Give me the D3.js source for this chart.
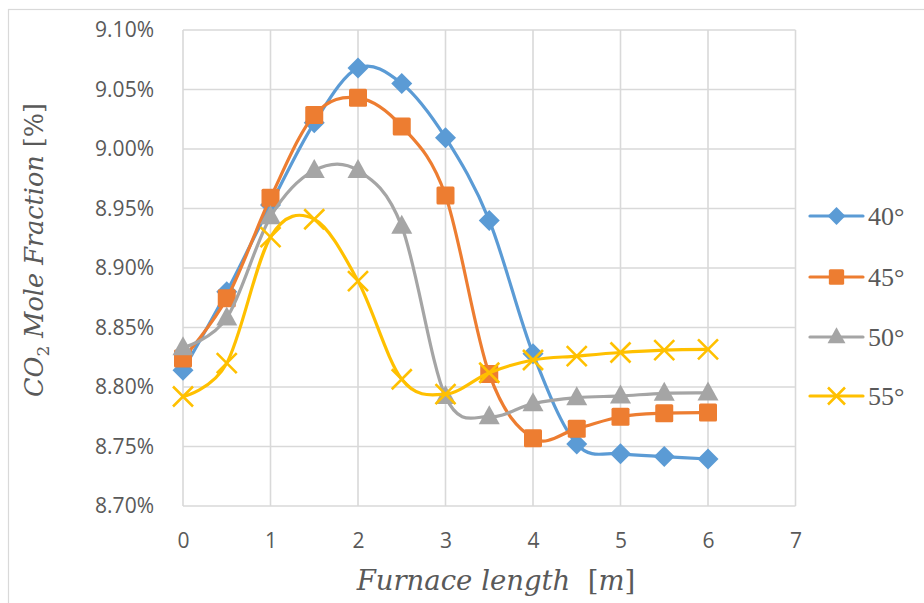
<!DOCTYPE html>
<html><head><meta charset="utf-8">
<script src="https://cdn.jsdelivr.net/npm/d3@7"></script>
<style>body{margin:0;background:#fff}svg{display:block}</style>
</head><body>
<svg id="c" width="924" height="603"></svg>
<script>
const xs = [0, 0.5, 1, 1.5, 2, 2.5, 3, 3.5, 4, 4.5, 5, 5.5, 6];
const s40 = [8.814, 8.880, 8.953, 9.022, 9.068, 9.055, 9.0095, 8.940, 8.828, 8.752, 8.744, 8.7415, 8.7395];
const s45 = [8.824, 8.8745, 8.959, 9.0286, 9.043, 9.019, 8.961, 8.811, 8.757, 8.765, 8.775, 8.778, 8.7785];
const s50 = [8.833, 8.858, 8.943, 8.982, 8.982, 8.935, 8.792, 8.775, 8.786, 8.791, 8.7925, 8.7947, 8.795];
const s55 = [8.792, 8.820, 8.926, 8.941, 8.889, 8.8065, 8.794, 8.812, 8.8227, 8.826, 8.829, 8.831, 8.8316];
const seriesNames = ["40°", "45°", "50°", "55°"];
const seriesColors = ["#5b9bd5", "#ed7d31", "#a5a5a5", "#ffc000"];
const seriesMarkers = ["diamond", "square", "triangle", "x"];
const xTicks = [0, 1, 2, 3, 4, 5, 6, 7];
const yTicks = [8.70, 8.75, 8.80, 8.85, 8.90, 8.95, 9.00, 9.05, 9.10];

const allSeries = [s40, s45, s50, s55];
const svg = d3.select("#c");
const X = d3.scaleLinear().domain([0, 7]).range([183, 795.5]);
const Y = d3.scaleLinear().domain([8.70, 9.10]).range([506, 30]);
const grid = "#d9d9d9", txt = "#595959";

// chart border
svg.append("rect").attr("x", 8.5).attr("y", 9.5).attr("width", 940).attr("height", 620)
  .attr("fill", "none").attr("stroke", grid).attr("stroke-width", 1.2);

// gridlines
const g = svg.append("g");
g.selectAll(".hy").data(yTicks).join("line")
  .attr("x1", X(0)).attr("x2", X(7)).attr("y1", d => Y(d)).attr("y2", d => Y(d))
  .attr("stroke", grid).attr("stroke-width", 1.6);
g.selectAll(".vx").data(xTicks).join("line")
  .attr("y1", Y(8.70)).attr("y2", Y(9.10)).attr("x1", d => X(d)).attr("x2", d => X(d))
  .attr("stroke", grid).attr("stroke-width", 1.6);

// axes via d3 axis generators (text only)
const yAxis = svg.append("g").attr("transform", `translate(${X(0) - 26},0)`)
  .call(d3.axisLeft(Y).tickValues(yTicks).tickSize(0).tickFormat(d => d.toFixed(2) + "%"));
const xAxis = svg.append("g").attr("transform", `translate(0,${Y(8.70) + 24})`)
  .call(d3.axisBottom(X).tickValues(xTicks).tickSize(0).tickFormat(d3.format("d")));
[yAxis, xAxis].forEach(a => {
  a.select(".domain").remove();
  a.selectAll("text").attr("fill", txt).attr("font-family", "'Open Sans', 'Liberation Sans', sans-serif").attr("font-size", "21px");
});

// marker symbol
function marker(sel, type, color, cx, cy, big) {
  const s = big ? 1 : 0.85;
  if (type === "diamond") {
    const r = 10.5 * s;
    sel.append("path").attr("d", `M${cx},${cy - r}L${cx + r},${cy}L${cx},${cy + r}L${cx - r},${cy}Z`).attr("fill", color);
  } else if (type === "square") {
    const h = 9 * s;
    sel.append("rect").attr("x", cx - h).attr("y", cy - h).attr("width", 2 * h).attr("height", 2 * h).attr("rx", 1.5).attr("fill", color);
  } else if (type === "triangle") {
    const w = 10.5 * s, ht = 11.5 * s;
    sel.append("path").attr("d", `M${cx},${cy - ht}L${cx + w},${cy + ht * 0.65}L${cx - w},${cy + ht * 0.65}Z`).attr("fill", color);
  } else {
    const r = 10 * s;
    sel.append("path").attr("d", `M${cx - r},${cy - r}L${cx + r},${cy + r}M${cx - r},${cy + r}L${cx + r},${cy - r}`)
      .attr("stroke", color).attr("stroke-width", 2.6).attr("fill", "none");
  }
}

const line = d3.line().x(d => X(d[0])).y(d => Y(d[1])).curve(d3.curveCardinal.tension(0));
allSeries.forEach((vals, i) => {
  const pts = xs.map((x, j) => [x, vals[j]]);
  const sg = svg.append("g");
  sg.append("path").attr("d", line(pts)).attr("fill", "none").attr("stroke", seriesColors[i])
    .attr("stroke-width", 3.2).attr("stroke-linejoin", "round").attr("stroke-linecap", "round");
  pts.forEach(p => marker(sg, seriesMarkers[i], seriesColors[i], X(p[0]), Y(p[1]), true));
});

// legend
const legY = [216, 277, 337, 396];
seriesNames.forEach((n, i) => {
  const lg = svg.append("g");
  lg.append("line").attr("x1", 810).attr("x2", 863).attr("y1", legY[i]).attr("y2", legY[i])
    .attr("stroke", seriesColors[i]).attr("stroke-width", 3.2).attr("stroke-linecap", "round");
  marker(lg, seriesMarkers[i], seriesColors[i], 836.5, legY[i], false);
  lg.append("text").attr("x", 868).attr("y", legY[i] + 9).text(n).attr("fill", txt)
    .attr("font-family", "'Liberation Serif', 'Times New Roman', serif").attr("font-size", "26px");
});

// axis titles
const xt = svg.append("text").attr("x", 496).attr("y", 590).attr("text-anchor", "middle")
  .attr("fill", txt).attr("font-family", "'DejaVu Serif', serif").attr("font-size", "27.5px");
xt.append("tspan").attr("font-style", "italic").text("Furnace length\u00a0\u00a0");
xt.append("tspan").text("[");
xt.append("tspan").attr("font-style", "italic").text("m");
xt.append("tspan").text("]");

const yt = svg.append("text").attr("transform", "translate(43,250) rotate(-90)").attr("text-anchor", "middle")
  .attr("fill", txt).attr("font-family", "'DejaVu Serif', serif").attr("font-size", "25.5px");
yt.append("tspan").attr("font-style", "italic").text("CO");
yt.append("tspan").attr("dy", 6).attr("font-size", "17px").text("2");
yt.append("tspan").attr("dy", -6).attr("font-style", "italic").text(" Mole Fraction ");
yt.append("tspan").text("[%]");
</script>
</body></html>
